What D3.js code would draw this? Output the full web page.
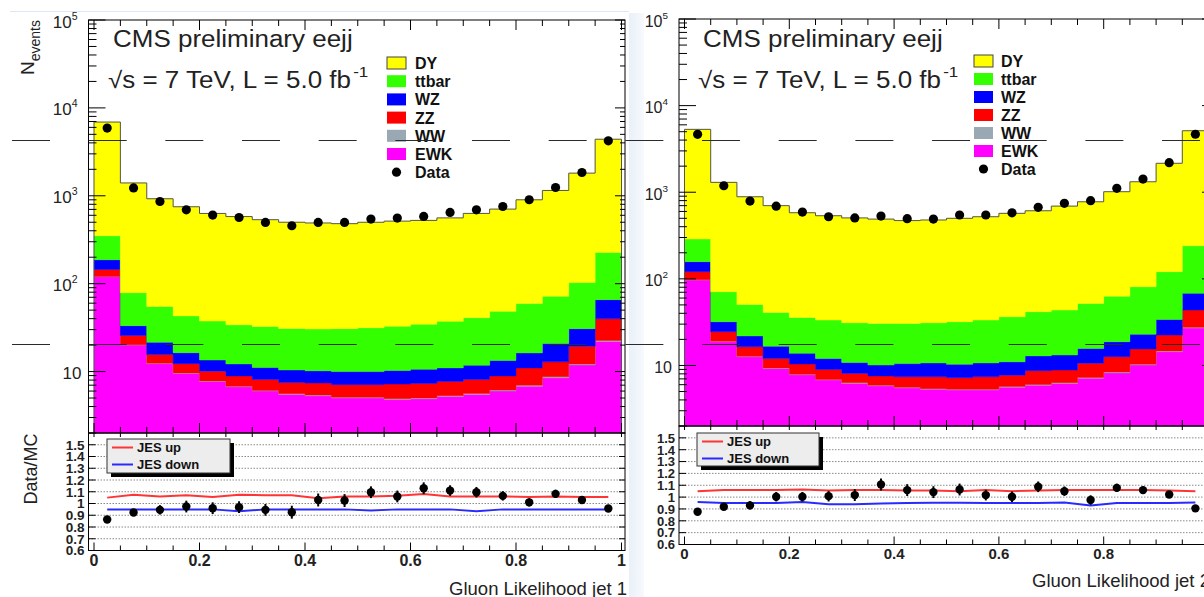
<!DOCTYPE html>
<html><head><meta charset="utf-8">
<script src="https://cdn.jsdelivr.net/npm/d3@7"></script>
<style>
body{margin:0;background:#fff}
svg{display:block;font-family:"Liberation Sans",Arial,Helvetica,sans-serif}
</style>
</head><body>
<svg id="c" width="1204" height="597"></svg>
<script>
// ---------------- DATA ----------------
const binEdges = [0,0.05,0.1,0.15,0.2,0.25,0.3,0.35,0.4,0.45,0.5,0.55,0.6,0.65,0.7,0.75,0.8,0.85,0.9,0.95,1.0];
const samples = ["DY","ttbar","WZ","ZZ","WW","EWK"];
const stackOrder = ["EWK","WW","ZZ","WZ","ttbar","DY"];

// jet 1 (left)
const DY_1    = [6550,1321,870,707,592,546,502,469,460,451,468,482,490,523,589,657,841,1078,1707,4173];
const ttbar_1 = [164,45.7,33.5,26.6,24,21.8,21.4,20.6,20.3,20.8,21.5,22.4,23.9,26.3,29.2,35,43,51,72,161];
const WZ_1    = [42,7.6,5.9,4.1,3.4,3.3,3.0,2.9,2.8,2.9,2.9,3.1,3.3,3.3,3.7,4.5,5.3,7.9,11.4,26];
const ZZ_1    = [24.4,5.5,3.15,2.68,2.3,2.1,2.0,1.9,2.0,2.0,2.0,2.3,2.3,2.38,2.48,2.75,4.0,4.15,7.2,17.2];
const WW_1    = [0.6,0.2,0.15,0.12,0.1,0.1,0.1,0.1,0.1,0.1,0.1,0.1,0.1,0.12,0.12,0.15,0.2,0.25,0.3,0.6];
const EWK_1   = [120,20,12.3,9.5,7.7,6.7,6.0,5.5,5.3,5.0,5.0,4.8,4.9,5.2,5.5,6.0,6.8,8.5,11.9,22];
const data_1  = [5900,1230,861,692,603,566,498,456,498,498,543,558,582,646,692,755,901,1243,1840,4220];
const ratio_1    = [0.864,0.923,0.946,0.974,0.96,0.969,0.946,0.926,1.03,1.025,1.096,1.06,1.13,1.11,1.096,1.065,1.01,1.082,1.03,0.957];
const ratioErr_1 = [0.02,0.03,0.04,0.05,0.05,0.05,0.05,0.055,0.055,0.055,0.05,0.05,0.05,0.045,0.045,0.04,0.035,0.035,0.03,0.02];
const jesUp_1    = [1.05,1.075,1.06,1.07,1.055,1.075,1.07,1.07,1.045,1.06,1.06,1.065,1.08,1.06,1.06,1.06,1.055,1.06,1.055,1.055];
const jesDown_1  = [0.95,0.95,0.95,0.95,0.95,0.935,0.95,0.95,0.95,0.95,0.94,0.95,0.95,0.95,0.935,0.95,0.95,0.95,0.95,0.95];

// jet 2 (right)
const DY_2    = [5032,1229,836,659,544,502,474,459,440,447,468,488,534,569,648,724,951,1240,2037,4889];
const ttbar_2 = [130,39,28.8,24.3,22.1,21.4,20.3,20.5,20,20.4,21.7,22.7,25.5,28.8,30.4,36.3,44.2,58.1,87,173];
const WZ_2    = [37,7.5,5.5,4.7,3.4,3.0,2.7,2.55,3.1,3.3,3.1,3.3,3.3,4.2,4.35,5.1,6.2,7.4,11.6,24.4];
const ZZ_2    = [23.5,5.5,3.65,2.68,2.5,2.1,1.8,1.65,1.8,2.0,1.9,2.1,1.98,2.68,2.53,3.35,4.2,5.15,7.7,16];
const WW_2    = [0.5,0.2,0.15,0.12,0.1,0.1,0.1,0.1,0.1,0.1,0.1,0.1,0.12,0.12,0.12,0.15,0.2,0.25,0.3,0.6];
const EWK_2   = [97,18.8,12.6,9.2,7.8,6.8,6.2,5.8,5.5,5.3,5.2,5.2,5.6,5.9,6.2,7.1,8.2,10.1,14.4,27];
const data_2  = [4660,1188,790,690,590,521,505,530,495,490,546,546,579,670,745,798,1109,1419,2193,4670];
const ratio_2    = [0.877,0.919,0.93,1.003,1.003,1.008,1.017,1.106,1.059,1.042,1.064,1.017,1.003,1.087,1.05,0.975,1.078,1.059,1.022,0.905];
const ratioErr_2 = [0.015,0.02,0.035,0.04,0.04,0.045,0.05,0.05,0.05,0.05,0.05,0.045,0.045,0.045,0.04,0.04,0.035,0.03,0.025,0.015];
const jesUp_2    = [1.05,1.06,1.06,1.06,1.065,1.055,1.06,1.06,1.055,1.055,1.05,1.06,1.05,1.055,1.06,1.06,1.06,1.06,1.055,1.05];
const jesDown_2  = [0.958,0.95,0.95,0.95,0.958,0.94,0.94,0.945,0.95,0.952,0.952,0.95,0.95,0.95,0.955,0.93,0.95,0.95,0.95,0.955];

// axis ticks / labels
const logTicks = [10,100,1000,10000,100000];
const logTickExp = ["","2","3","4","5"];
const ratioTicks = [0.6,0.7,0.8,0.9,1.0,1.1,1.2,1.3,1.4,1.5];
const ratioTickLabels = ["0.6","0.7","0.8","0.9","1","1.1","1.2","1.3","1.4","1.5"];
const gridTicks = [0.7,0.8,0.9,1.0,1.1,1.2,1.3,1.4,1.5];
const xTicks = [0,0.2,0.4,0.6,0.8,1];
const xTickLabels = ["0","0.2","0.4","0.6","0.8","1"];
const legendLabels = ["DY","ttbar","WZ","ZZ","WW","EWK","Data"];
const ratioLegendLabels = ["JES up","JES down"];

// ---------------- STYLE ----------------
const colors = {DY:"#ffff00", ttbar:"#33ff00", WZ:"#0000ff", ZZ:"#ff0000", WW:"#9aa8b4", EWK:"#ff00ff"};
const jesColors = ["#ff3535","#2a2aff"];

const svg = d3.select("#c");

// light background artefacts
const defs = svg.append("defs");
const lg = defs.append("linearGradient").attr("id","strip").attr("x1",0).attr("x2",1).attr("y1",0).attr("y2",0);
lg.append("stop").attr("offset","0%").attr("stop-color","#e9f0f9");
lg.append("stop").attr("offset","100%").attr("stop-color","#f7fafd");
svg.append("rect").attr("x",629).attr("y",13).attr("width",15).attr("height",584).attr("fill","url(#strip)");
svg.append("line").attr("x1",10).attr("x2",629).attr("y1",11.5).attr("y2",11.5).attr("stroke","#dde8f4").attr("stroke-width",1);

const panels = [
  {values:{DY:DY_1,ttbar:ttbar_1,WZ:WZ_1,ZZ:ZZ_1,WW:WW_1,EWK:EWK_1}, data:data_1,
   ratio:ratio_1, ratioErr:ratioErr_1, jes:[jesUp_1,jesDown_1],
   frameL:88.5, frameR:625, x0:94, x1:621.5, top:20, mainBottom:433, ratioBottom:550.5,
   title:[113,47], line2:[108,88], legendBoxX:387, legendTextX:415, legendY0:63, legendDy:18.2,
   rleg:[107,439,230,473], xlabel:"Gluon Likelihood jet 1", xlabelPos:[627,595,"end"],
   logLabelSize:17, xLabelSize:16, xLabelBase:565.5, ratioLabelSize:13.5, yTitles:true},
  {values:{DY:DY_2,ttbar:ttbar_2,WZ:WZ_2,ZZ:ZZ_2,WW:WW_2,EWK:EWK_2}, data:data_2,
   ratio:ratio_2, ratioErr:ratioErr_2, jes:[jesUp_2,jesDown_2],
   frameL:679, frameR:1212, x0:684.5, x1:1208.5, top:19, mainBottom:426, ratioBottom:544.5,
   title:[703,47], line2:[698,88], legendBoxX:974, legendTextX:1001, legendY0:61, legendDy:18,
   rleg:[697,433,819,466], xlabel:"Gluon Likelihood jet 2", xlabelPos:[1032,587,"start"],
   logLabelSize:16, xLabelSize:15, xLabelBase:558.5, ratioLabelSize:13, yTitles:false}
];

panels.forEach(drawPanel);

function drawPanel(p){
  const g = svg.append("g");
  const x = d3.scaleLinear().domain([0,1]).range([p.x0,p.x1]);
  const y = d3.scaleLog().domain([2,1e5]).range([p.mainBottom,p.top]).clamp(true);
  const r = d3.scaleLinear().domain([0.6,1.6]).range([p.ratioBottom,p.mainBottom]);

  const rows = binEdges.slice(0,-1).map((e,i)=>{
    const o = {lo:e, hi:binEdges[i+1], c:(e+binEdges[i+1])/2};
    samples.forEach(s=>o[s]=p.values[s][i]);
    return o;
  });
  const layers = d3.stack().keys(stackOrder)(rows);
  const area = d3.area().x(d=>x(d.x)).y0(d=>y(d.y0)).y1(d=>y(d.y1));
  layers.forEach(layer=>{
    const pts=[];
    layer.forEach(d=>{
      pts.push({x:d.data.lo,y0:d[0],y1:d[1]});
      pts.push({x:d.data.hi,y0:d[0],y1:d[1]});
    });
    g.append("path").attr("d",area(pts)).attr("fill",colors[layer.key]).attr("stroke",colors[layer.key]).attr("stroke-width",0.4);
  });
  // outline of total stack
  const topLayer = layers[layers.length-1];
  const opts=[{x:rows[0].lo,v:0}];
  topLayer.forEach(d=>{opts.push({x:d.data.lo,v:d[1]});opts.push({x:d.data.hi,v:d[1]});});
  opts.push({x:rows[rows.length-1].hi,v:0});
  g.append("path").attr("d",d3.line().x(d=>x(d.x)).y(d=>y(d.v))(opts))
    .attr("fill","none").attr("stroke","#555").attr("stroke-width",1);

  // data points
  g.selectAll(null).data(rows).enter().append("circle")
    .attr("cx",d=>x(d.c)).attr("cy",(d,i)=>y(p.data[i])).attr("r",4.6).attr("fill","#000");

  // ---- main frame & ticks
  const tk = g.append("g").attr("stroke","#000").attr("stroke-width",1);
  tk.append("rect").attr("x",p.frameL).attr("y",p.top).attr("width",p.frameR-p.frameL).attr("height",p.mainBottom-p.top).attr("fill","none");
  const minor=[];
  for(let k=0;k<5;k++) for(let m=1;m<10;m++){const v=m*Math.pow(10,k); if(v>=2&&v<=1e5&&m>1) minor.push(v);}
  minor.forEach(v=>{
    tk.append("line").attr("x1",p.frameL).attr("x2",p.frameL+8).attr("y1",y(v)).attr("y2",y(v));
    tk.append("line").attr("x1",p.frameR).attr("x2",p.frameR-5).attr("y1",y(v)).attr("y2",y(v));
  });
  logTicks.forEach(v=>{
    tk.append("line").attr("x1",p.frameL).attr("x2",p.frameL+17).attr("y1",y(v)).attr("y2",y(v));
    tk.append("line").attr("x1",p.frameR).attr("x2",p.frameR-10).attr("y1",y(v)).attr("y2",y(v));
  });
  const xMinor = d3.range(0,1.0001,0.05);
  xMinor.forEach(v=>{
    const isMaj = Math.abs(v*5-Math.round(v*5))<1e-6;
    const L = isMaj?10:6;
    tk.append("line").attr("x1",x(v)).attr("x2",x(v)).attr("y1",p.top).attr("y2",p.top+L);
    tk.append("line").attr("x1",x(v)).attr("x2",x(v)).attr("y1",p.mainBottom).attr("y2",p.mainBottom-L);
  });
  // log labels
  logTicks.forEach((v,i)=>{
    const exp = logTickExp[i];
    const t = g.append("text").attr("y",y(v)+7.5).attr("font-size",p.logLabelSize).attr("fill","#222")
      .attr("text-anchor","end").attr("x",exp?p.frameL-11:p.frameL-7);
    t.append("tspan").text("10");
    if(exp) t.append("tspan").attr("dy",-8).attr("font-size",p.logLabelSize*0.62).text(exp);
  });

  // ---- titles
  const t1 = g.append("g").attr("transform",`translate(${p.title[0]},${p.title[1]}) scale(1.13,1)`);
  t1.append("text").attr("font-size",23).attr("fill","#222").text("CMS preliminary eejj");
  const t2 = g.append("g").attr("transform",`translate(${p.line2[0]},${p.line2[1]}) scale(1.13,1)`);
  const tt = t2.append("text").attr("font-size",23).attr("fill","#222");
  tt.append("tspan").text("\u221As = 7 TeV, L = 5.0 fb");
  tt.append("tspan").attr("dy",-11).attr("dx",2).attr("font-size",15).text("-1");

  // ---- legend
  const leg = g.append("g");
  legendLabels.forEach((lab,i)=>{
    const cy = p.legendY0 + i*p.legendDy;
    if(i<samples.length){
      leg.append("rect").attr("x",p.legendBoxX).attr("y",cy-6).attr("width",19).attr("height",12)
        .attr("fill",colors[samples[i]]).attr("stroke",i===0?"#444":"none").attr("stroke-width",1);
    } else {
      leg.append("circle").attr("cx",p.legendBoxX+9.5).attr("cy",cy).attr("r",4.6).attr("fill","#000");
    }
    leg.append("text").attr("x",p.legendTextX).attr("y",cy+6).attr("font-size",16).attr("font-weight","bold").attr("fill","#111").text(lab);
  });

  // ---- ratio panel
  const rg = svg.append("g");
  gridTicks.forEach(v=>{
    rg.append("line").attr("x1",p.frameL).attr("x2",p.frameR).attr("y1",r(v)).attr("y2",r(v))
      .attr("stroke","#8a8a8a").attr("stroke-width",1).attr("stroke-dasharray","1.5,1.5");
  });
  const rk = rg.append("g").attr("stroke","#000").attr("stroke-width",1);
  rk.append("rect").attr("x",p.frameL).attr("y",p.mainBottom).attr("width",p.frameR-p.frameL).attr("height",p.ratioBottom-p.mainBottom).attr("fill","none");
  ratioTicks.forEach(v=>{
    rk.append("line").attr("x1",p.frameL).attr("x2",p.frameL+7).attr("y1",r(v)).attr("y2",r(v));
    rk.append("line").attr("x1",p.frameR).attr("x2",p.frameR-6).attr("y1",r(v)).attr("y2",r(v));
  });
  xMinor.forEach(v=>{
    const isMaj = Math.abs(v*5-Math.round(v*5))<1e-6;
    rk.append("line").attr("x1",x(v)).attr("x2",x(v)).attr("y1",p.ratioBottom).attr("y2",p.ratioBottom-(isMaj?8:5));
    rk.append("line").attr("x1",x(v)).attr("x2",x(v)).attr("y1",p.mainBottom).attr("y2",p.mainBottom+4);
  });
  ratioTicks.forEach((v,i)=>{
    rg.append("text").attr("x",p.frameL-4).attr("y",r(v)+4.8).attr("text-anchor","end")
      .attr("font-size",p.ratioLabelSize).attr("font-weight","bold").attr("fill","#222").text(ratioTickLabels[i]);
  });
  xTicks.forEach((v,i)=>{
    rg.append("text").attr("x",x(v)).attr("y",p.xLabelBase).attr("text-anchor","middle")
      .attr("font-size",p.xLabelSize).attr("font-weight","bold").attr("fill","#222").text(xTickLabels[i]);
  });
  // JES lines
  p.jes.forEach((arr,k)=>{
    rg.append("path").attr("d",d3.line().x((d,i)=>x(rows[i].c)).y(d=>r(d))(arr))
      .attr("fill","none").attr("stroke",jesColors[k]).attr("stroke-width",2);
  });
  // ratio points
  rows.forEach((d,i)=>{
    rg.append("line").attr("x1",x(d.c)).attr("x2",x(d.c))
      .attr("y1",r(p.ratio[i]-p.ratioErr[i])).attr("y2",r(p.ratio[i]+p.ratioErr[i]))
      .attr("stroke","#000").attr("stroke-width",2);
    rg.append("circle").attr("cx",x(d.c)).attr("cy",r(p.ratio[i])).attr("r",4.2).attr("fill","#000");
  });
  // ratio legend
  const [lx0,ly0,lx1,ly1] = p.rleg;
  rg.append("rect").attr("x",lx0+4).attr("y",ly0+4).attr("width",lx1-lx0).attr("height",ly1-ly0).attr("fill","#000");
  rg.append("rect").attr("x",lx0).attr("y",ly0).attr("width",lx1-lx0).attr("height",ly1-ly0).attr("fill","#ededed").attr("stroke","#333").attr("stroke-width",1);
  ratioLegendLabels.forEach((lab,k)=>{
    const cy = ly0 + 8.5 + k*17;
    rg.append("line").attr("x1",lx0+5).attr("x2",lx0+26).attr("y1",cy).attr("y2",cy).attr("stroke",jesColors[k]).attr("stroke-width",2);
    rg.append("text").attr("x",lx0+30).attr("y",cy+4.5).attr("font-size",13).attr("font-weight","bold").attr("fill","#111").text(lab);
  });

  // axis titles
  rg.append("text").attr("x",p.xlabelPos[0]).attr("y",p.xlabelPos[1]).attr("text-anchor",p.xlabelPos[2])
    .attr("font-size",18.5).attr("fill","#222").text(p.xlabel);
  if(p.yTitles){
    const nt = rg.append("text").attr("transform","translate(34,20) rotate(-90)").attr("text-anchor","end").attr("fill","#222");
    nt.append("tspan").attr("font-size",19).text("N");
    nt.append("tspan").attr("font-size",14).attr("dy",6).text("events");
    rg.append("text").attr("transform","translate(37,469) rotate(-90)").attr("text-anchor","middle")
      .attr("font-size",18).attr("fill","#222").text("Data/MC");
  }
}

// dashed annotation lines across the whole picture
const dashYs = [140.5, 344.5];
dashYs.forEach(yy=>{
  svg.append("line").attr("x1",12).attr("x2",1204).attr("y1",yy).attr("y2",yy)
    .attr("stroke","#2a2a2a").attr("stroke-width",1).attr("stroke-dasharray","38,38.67");
});
</script>
</body></html>
